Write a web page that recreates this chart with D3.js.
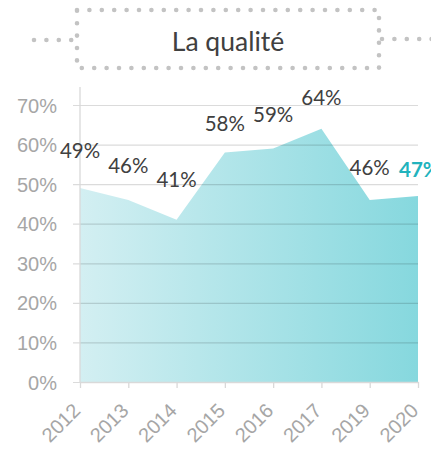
<!DOCTYPE html>
<html>
<head>
<meta charset="utf-8">
<script src="https://cdn.jsdelivr.net/npm/d3@7/dist/d3.min.js"></script>
<style>
  html, body { margin: 0; padding: 0; background: #fff; overflow: hidden; }
  svg { display: block; font-family: Lato, "Noto Sans", sans-serif; }
</style>
</head>
<body>
<svg id="chart" width="431" height="450"></svg>
<script>
// Share of respondents satisfied with quality, per survey year
const years = ["2012", "2013", "2014", "2015", "2016", "2017", "2019", "2020"];
const values = [0.49, 0.46, 0.41, 0.58, 0.59, 0.64, 0.46, 0.47];
const yTicks = [0, 0.1, 0.2, 0.3, 0.4, 0.5, 0.6, 0.7];
const title = "La qualité";

// vertical gap between each point and its label
const labelLift = [30, 27, 33, 21, 27, 24, 25, 0];

const svg = d3.select("#chart");
const left = 80, right = 418, bottom = 382, plotTop = 87;

const x = d3.scalePoint().domain(years).range([left, right]);
const y = d3.scaleLinear().domain([0, 0.7]).range([bottom, 105]);

// gradient fill for the area
const defs = svg.append("defs");
const grad = defs.append("linearGradient")
  .attr("id", "areaFill").attr("x1", "0").attr("x2", "1").attr("y1", "0").attr("y2", "0");
grad.append("stop").attr("offset", "0%").attr("stop-color", "#d3eff2");
grad.append("stop").attr("offset", "100%").attr("stop-color", "#86d8de");

const area = d3.area()
  .x((d, i) => x(years[i]))
  .y0(bottom)
  .y1(d => y(d));

svg.append("path")
  .datum(values)
  .attr("d", area)
  .attr("fill", "url(#areaFill)");

// horizontal gridlines (semi-transparent so they darken over the fill)
const yAxis = d3.axisLeft(y)
  .tickValues(yTicks)
  .tickSize(-(right - left + 7))
  .tickFormat(d3.format(".0%"));
const gy = svg.append("g").attr("transform", `translate(${left - 7},0)`).call(yAxis);
gy.select(".domain").remove();
gy.selectAll(".tick line")
  .attr("x1", 0)
  .attr("x2", right - left + 7)
  .attr("stroke", "#000").attr("stroke-opacity", 0.14).attr("stroke-width", 1.2);
gy.selectAll(".tick text")
  .attr("x", -16)
  .attr("dy", "0.35em")
  .attr("fill", "#a6a6a6")
  .style("font-size", "20px");

// vertical axis line
svg.append("line")
  .attr("x1", left).attr("x2", left)
  .attr("y1", plotTop).attr("y2", bottom)
  .attr("stroke", "#d9d9d9").attr("stroke-width", 1.3);

// category axis
const xAxis = d3.axisBottom(x).tickSize(6).tickSizeOuter(0);
const gx = svg.append("g").attr("transform", `translate(0,${bottom})`).call(xAxis);
gx.select(".domain").attr("stroke", "#d9d9d9").attr("stroke-width", 1.3);
gx.selectAll(".tick line").attr("stroke", "#d9d9d9").attr("stroke-width", 1.3);
gx.selectAll(".tick text")
  .attr("y", 0).attr("dy", 0)
  .attr("text-anchor", "end")
  .attr("transform", "translate(1,30) rotate(-45)")
  .attr("fill", "#a6a6a6")
  .style("font-size", "20px");

// value labels
const last = values.length - 1;
svg.append("g").selectAll("text")
  .data(values)
  .join("text")
  .attr("x", (d, i) => i === last ? x(years[i]) - 19 : x(years[i]))
  .attr("y", (d, i) => i === last ? y(d) - 19 : y(d) - labelLift[i])
  .attr("text-anchor", (d, i) => i === last ? "start" : "middle")
  .attr("fill", (d, i) => i === last ? "#22b3bd" : "#404040")
  .attr("font-weight", (d, i) => i === last ? "bold" : "normal")
  .style("font-size", "20.5px")
  .text(d => d3.format(".0%")(d));

// dotted title frame with side leaders
const dot = { stroke: "#c3c3c3", "stroke-width": 4.6, "stroke-linecap": "round", "stroke-dasharray": "0 12.4" };
function dotted(sel) {
  Object.entries(dot).forEach(([k, v]) => sel.attr(k, v));
  return sel.attr("fill", "none");
}
dotted(svg.append("rect").attr("x", 77).attr("y", 10).attr("width", 302).attr("height", 58));
dotted(svg.append("line").attr("x1", 34).attr("x2", 77).attr("y1", 40).attr("y2", 40));
dotted(svg.append("line").attr("x1", 382).attr("x2", 440).attr("y1", 39).attr("y2", 39));

svg.append("text")
  .attr("x", 228).attr("y", 51)
  .attr("text-anchor", "middle")
  .attr("fill", "#404040")
  .style("font-size", "26.5px")
  .text(title);
</script>
</body>
</html>
